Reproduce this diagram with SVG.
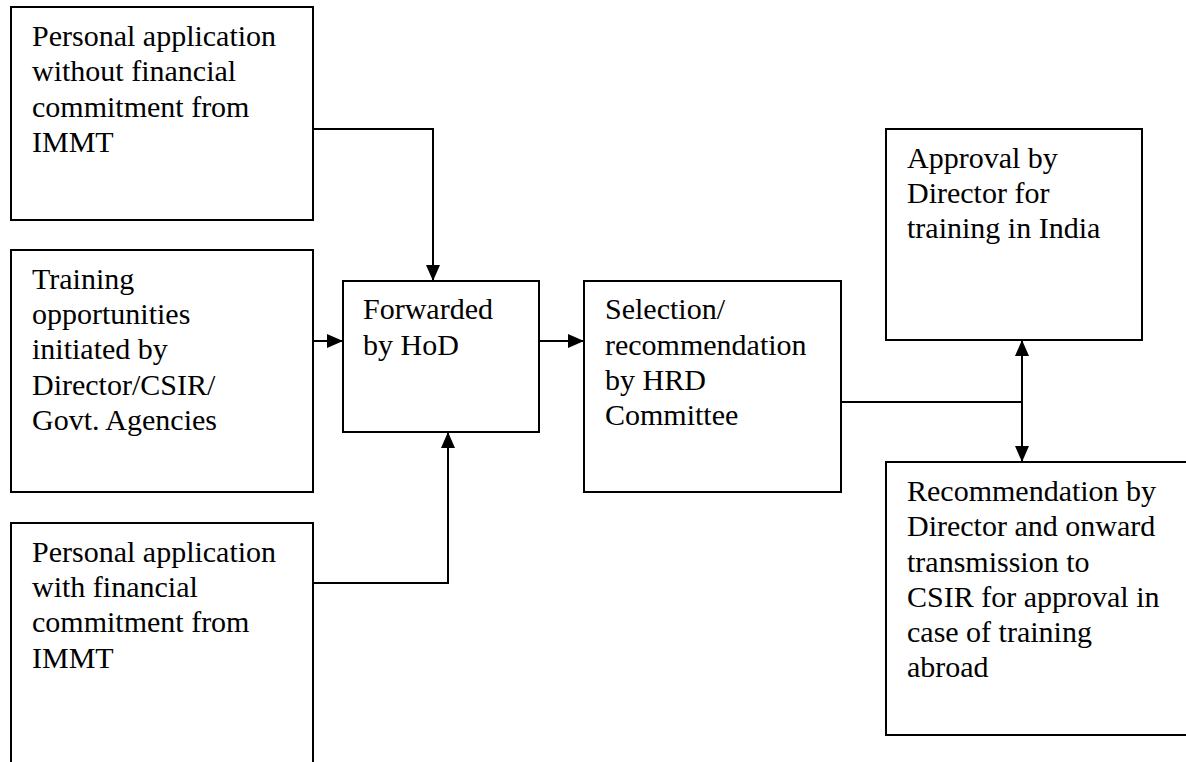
<svg xmlns="http://www.w3.org/2000/svg" width="1186" height="762" viewBox="0 0 1186 762">
<style>
.box{fill:#fff;stroke:#000;stroke-width:2}
.t{font-family:"Liberation Serif","Times New Roman",serif;font-size:30px;fill:#000}
.c{fill:none;stroke:#000;stroke-width:2}
</style>
<defs>
<marker id="ah" markerUnits="userSpaceOnUse" markerWidth="16" markerHeight="14" refX="16" refY="7" orient="auto">
<path d="M0,0 L16,7 L0,14 z" fill="#000"/>
</marker>
</defs>
<rect width="1186" height="762" fill="#fff"/>
<g id="n1">
<rect class="box" x="11" y="7" width="302" height="213"/>
<text class="t" x="32" y="46">Personal application</text>
<text class="t" x="32" y="81">without financial</text>
<text class="t" x="32" y="117">commitment from</text>
<text class="t" x="32" y="152">IMMT</text>
</g>
<g id="n2">
<rect class="box" x="11" y="250" width="302" height="242"/>
<text class="t" x="32" y="289">Training</text>
<text class="t" x="32" y="324">opportunities</text>
<text class="t" x="32" y="359">initiated by</text>
<text class="t" x="32" y="395">Director/CSIR/</text>
<text class="t" x="32" y="430">Govt. Agencies</text>
</g>
<g id="n3">
<rect class="box" x="11" y="523" width="302" height="260"/>
<text class="t" x="32" y="562">Personal application</text>
<text class="t" x="32" y="597">with financial</text>
<text class="t" x="32" y="632">commitment from</text>
<text class="t" x="32" y="668">IMMT</text>
</g>
<g id="n4">
<rect class="box" x="343" y="281" width="196" height="151"/>
<text class="t" x="363" y="319">Forwarded</text>
<text class="t" x="363" y="355">by HoD</text>
</g>
<g id="n5">
<rect class="box" x="584" y="281" width="257" height="211"/>
<text class="t" x="605" y="319">Selection/</text>
<text class="t" x="605" y="355">recommendation</text>
<text class="t" x="605" y="390">by HRD</text>
<text class="t" x="605" y="425">Committee</text>
</g>
<g id="n6">
<rect class="box" x="886" y="129" width="256" height="211"/>
<text class="t" x="907" y="168">Approval by</text>
<text class="t" x="907" y="203">Director for</text>
<text class="t" x="907" y="238">training in India</text>
</g>
<g id="n7">
<rect class="box" x="886" y="462" width="320" height="273"/>
<text class="t" x="907" y="501">Recommendation by</text>
<text class="t" x="907" y="536">Director and onward</text>
<text class="t" x="907" y="572">transmission to</text>
<text class="t" x="907" y="607">CSIR for approval in</text>
<text class="t" x="907" y="642">case of training</text>
<text class="t" x="907" y="677">abroad</text>
</g>
<g id="connectors">
<path class="c" d="M313,129 H433 V281" marker-end="url(#ah)"/>
<path class="c" d="M313,341 H343" marker-end="url(#ah)"/>
<path class="c" d="M313,583 H448 V432" marker-end="url(#ah)"/>
<path class="c" d="M539,341 H584" marker-end="url(#ah)"/>
<path class="c" d="M841,402 H1022"/>
<path class="c" d="M1022,402 V340" marker-end="url(#ah)"/>
<path class="c" d="M1022,402 V462" marker-end="url(#ah)"/>
</g>
</svg>
